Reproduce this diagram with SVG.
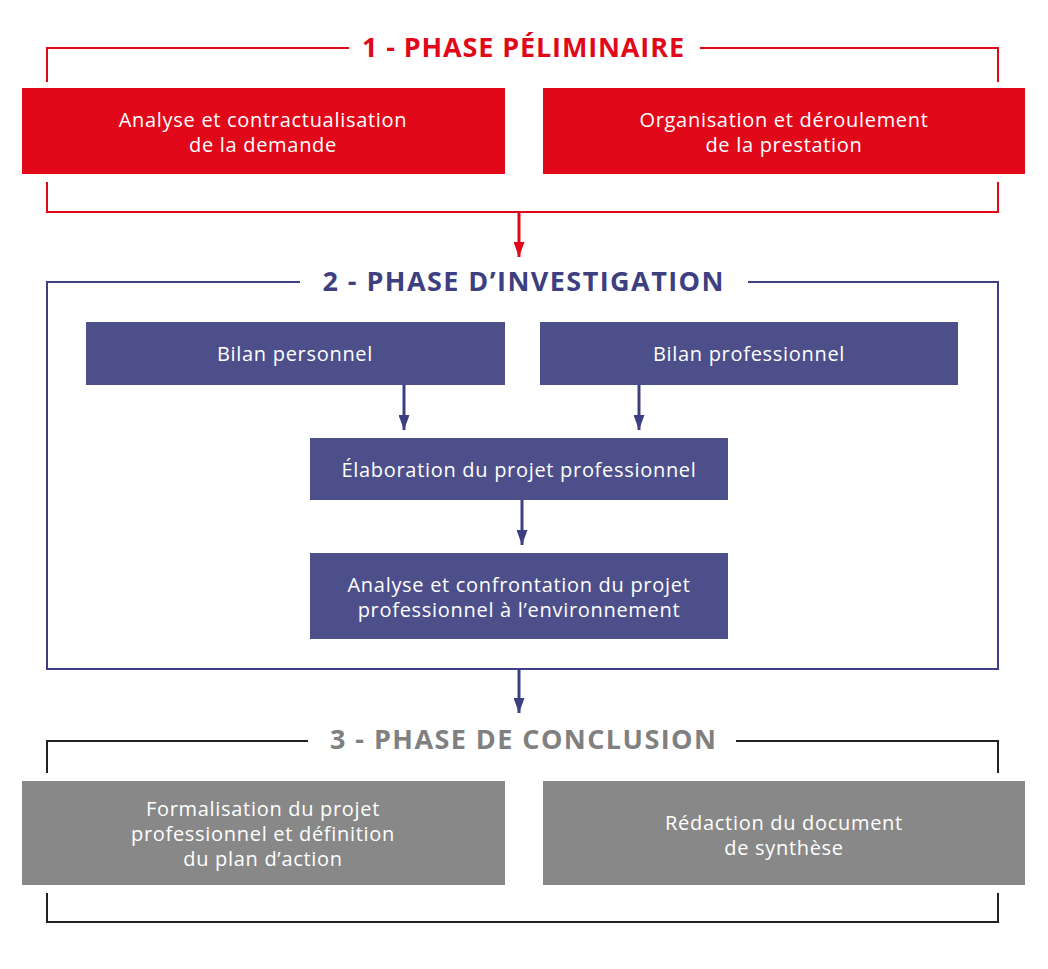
<svg xmlns="http://www.w3.org/2000/svg" width="1048" height="969" viewBox="0 0 1048 969">
<style>
.t{font-family:"Open Sans","Liberation Sans",sans-serif;font-size:20px;fill:#fff;text-anchor:middle;letter-spacing:0.7px}
.h{font-family:"Open Sans","Liberation Sans",sans-serif;font-size:27px;font-weight:bold;text-anchor:middle}
.red{fill:#E1081A}.navy{fill:#4D4F8A}.gray{fill:#888888}
.lr{fill:none;stroke:#E1081A;stroke-width:2}
.ln{fill:none;stroke:#3E3F80;stroke-width:2}
.lk{fill:none;stroke:#222;stroke-width:2}
.ar{fill:none;stroke-width:3}
</style>
<defs>
<marker id="ar" viewBox="0 0 15 11" refX="15" refY="5.5" markerWidth="15" markerHeight="11" markerUnits="userSpaceOnUse" orient="auto"><path d="M0,0 L15,5.5 L0,11 Z" fill="#E1081A"/></marker>
<marker id="an" viewBox="0 0 15 11" refX="15" refY="5.5" markerWidth="15" markerHeight="11" markerUnits="userSpaceOnUse" orient="auto"><path d="M0,0 L15,5.5 L0,11 Z" fill="#3E3F80"/></marker>
</defs>
<g id="phase1">
<path class="lr" d="M47,82 V48 H349 M700,48 H998 V82 M47,182 V212 H998 V182"/>
<text class="h" x="523" y="57" fill="#E1081A" textLength="322" lengthAdjust="spacing">1 - PHASE PÉLIMINAIRE</text>
</g>
<g id="n1"><rect class="red" x="22" y="88" width="483" height="86"/>
<text class="t" x="263" y="127">Analyse et contractualisation</text><text class="t" x="263" y="152">de la demande</text></g>
<g id="n2"><rect class="red" x="543" y="88" width="482" height="86"/>
<text class="t" x="784" y="127">Organisation et déroulement</text><text class="t" x="784" y="152">de la prestation</text></g>
<g id="phase2">
<path class="ln" d="M300,282 H47 V669 H998 V282 H748"/>
<text class="h" x="523" y="291" fill="#3E3F80" textLength="401" lengthAdjust="spacing">2 - PHASE D’INVESTIGATION</text>
</g>
<g id="n3"><rect class="navy" x="86" y="322" width="419" height="63"/><text class="t" x="295" y="361">Bilan personnel</text></g>
<g id="n4"><rect class="navy" x="540" y="322" width="418" height="63"/><text class="t" x="749" y="361">Bilan professionnel</text></g>
<g id="n5"><rect class="navy" x="310" y="438" width="418" height="62"/><text class="t" x="519" y="477">Élaboration du projet professionnel</text></g>
<g id="n6"><rect class="navy" x="310" y="553" width="418" height="86"/>
<text class="t" x="519" y="592">Analyse et confrontation du projet</text><text class="t" x="519" y="617">professionnel à l’environnement</text></g>
<g id="phase3">
<path class="lk" d="M47,773 V741 H308 M736,741 H998 V773 M47,893 V922 H998 V893"/>
<text class="h" x="523" y="749" fill="#808080" textLength="386" lengthAdjust="spacing">3 - PHASE DE CONCLUSION</text>
</g>
<g id="n7"><rect class="gray" x="22" y="781" width="483" height="104"/>
<text class="t" x="263" y="816">Formalisation du projet</text><text class="t" x="263" y="841">professionnel et définition</text><text class="t" x="263" y="866">du plan d’action</text></g>
<g id="n8"><rect class="gray" x="543" y="781" width="482" height="104"/>
<text class="t" x="784" y="830">Rédaction du document</text><text class="t" x="784" y="855">de synthèse</text></g>
<g id="connectors">
<path class="ar" stroke="#E1081A" d="M519,213 V257" marker-end="url(#ar)"/>
<path class="ar" stroke="#3E3F80" d="M404,385 V430" marker-end="url(#an)"/>
<path class="ar" stroke="#3E3F80" d="M639,385 V430" marker-end="url(#an)"/>
<path class="ar" stroke="#3E3F80" d="M522,500 V545" marker-end="url(#an)"/>
<path class="ar" stroke="#3E3F80" d="M519,670 V713" marker-end="url(#an)"/>
</g>
</svg>
